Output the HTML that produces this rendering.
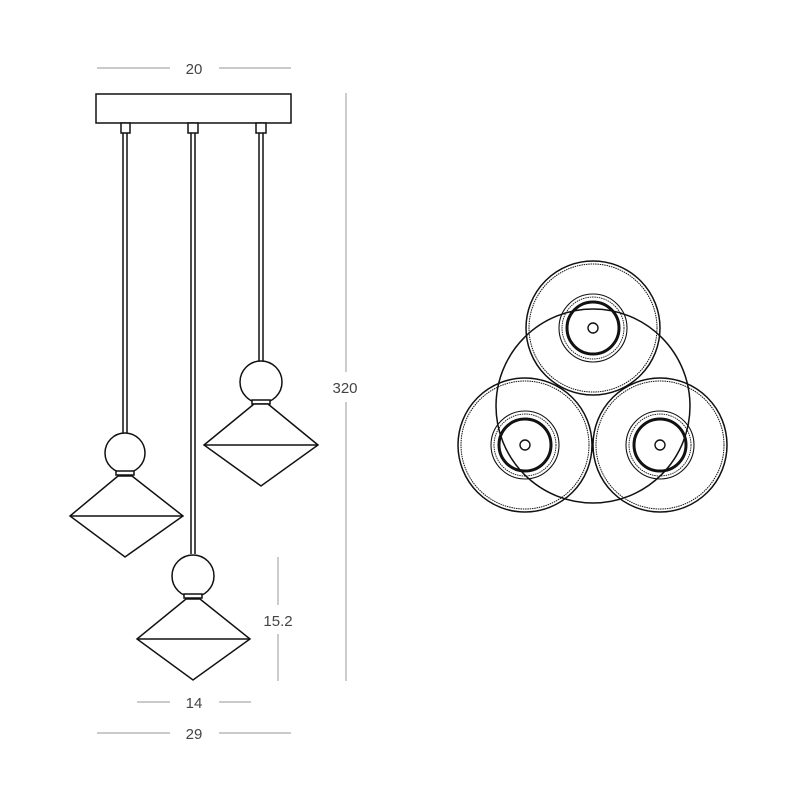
<!DOCTYPE html>
<html><head><style>body{margin:0;background:#fff}svg{display:block}</style></head><body>
<svg width="800" height="800" viewBox="0 0 800 800" xmlns="http://www.w3.org/2000/svg">
<defs>
<g id="c" fill="none" stroke="#111">
<circle r="67" stroke-width="1.5"/><circle r="64" stroke-width="1" stroke-dasharray="1.5 0.8"/>
<circle r="34" stroke-width="1.1"/><circle r="31" stroke-width="0.9" stroke-dasharray="1.5 0.8"/>
<circle r="26" stroke-width="3"/><circle r="5" stroke-width="1.4"/>
</g>
</defs>
<g stroke="#aaa" stroke-width="1.2" fill="none">
<line x1="97" y1="68" x2="170" y2="68"/><line x1="219" y1="68" x2="291" y2="68"/>
<line x1="137" y1="702" x2="170" y2="702"/><line x1="219" y1="702" x2="251" y2="702"/>
<line x1="97" y1="733" x2="170" y2="733"/><line x1="219" y1="733" x2="291" y2="733"/>
<line x1="346" y1="93" x2="346" y2="372"/><line x1="346" y1="402" x2="346" y2="681"/>
<line x1="278" y1="557" x2="278" y2="605"/><line x1="278" y1="634" x2="278" y2="681"/>
</g>
<g font-family="Liberation Sans, sans-serif" font-size="15" fill="#444" text-anchor="middle">
<text x="194" y="74">20</text><text x="194" y="708">14</text><text x="194" y="739">29</text>
<text x="345" y="393">320</text><text x="278" y="626">15.2</text>
</g>
<g stroke="#111" stroke-width="1.5" fill="#fff">
<rect x="96" y="94" width="195" height="29"/>
<rect x="121" y="123" width="9" height="10"/><rect x="188" y="123" width="10" height="10"/><rect x="256" y="123" width="10" height="10"/>
<line x1="123" y1="133" x2="123" y2="433"/><line x1="127" y1="133" x2="127" y2="433"/>
<line x1="191" y1="133" x2="191" y2="554"/><line x1="195" y1="133" x2="195" y2="554"/>
<line x1="259" y1="133" x2="259" y2="361"/><line x1="263" y1="133" x2="263" y2="361"/>
<circle cx="125" cy="453" r="20"/><rect x="116" y="471" width="18" height="4"/>
<path d="M118 476 L132 476 L183 516 L125 557 L70 516 Z"/><line x1="70" y1="516" x2="183" y2="516"/>
<circle cx="261" cy="382" r="21"/><rect x="252" y="400" width="18" height="4"/>
<path d="M254 404 L268 404 L318 445 L261 486 L204 445 Z"/><line x1="204" y1="445" x2="318" y2="445"/>
<circle cx="193" cy="576" r="21"/><rect x="184" y="594" width="18" height="4"/>
<path d="M186 599 L200 599 L250 639 L193 680 L137 639 Z"/><line x1="137" y1="639" x2="250" y2="639"/>
</g>
<circle cx="593" cy="406" r="97" stroke-width="1.5" fill="none" stroke="#111"/>
<use href="#c" transform="translate(593,328)"/>
<use href="#c" transform="translate(525,445)"/>
<use href="#c" transform="translate(660,445)"/>
</svg>
</body></html>
